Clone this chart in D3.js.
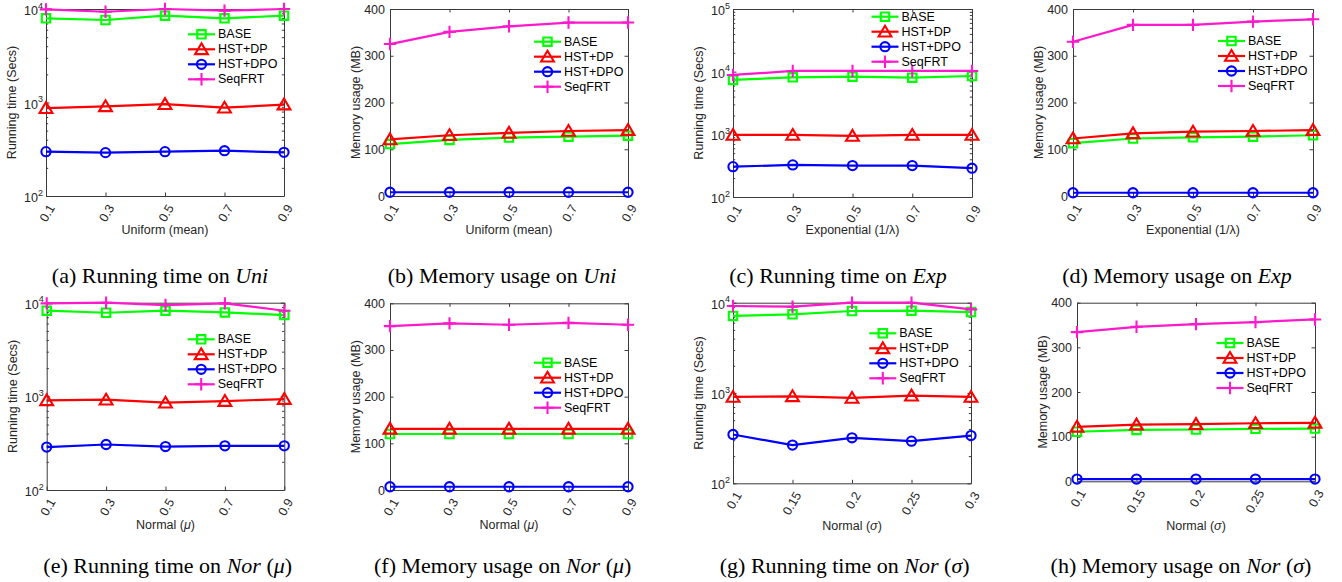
<!DOCTYPE html>
<html>
<head>
<meta charset="utf-8">
<script src="https://cdn.jsdelivr.net/npm/d3@7"></script>
<style>
  body { margin: 0; background: #fff; }
  svg { display: block; }
  text { white-space: pre; }
</style>
</head>
<body>
<script>
// x values
const xMean = [0.1, 0.3, 0.5, 0.7, 0.9];
const xSigma = [0.1, 0.15, 0.2, 0.25, 0.3];
const seriesNames = ["BASE", "HST+DP", "HST+DPO", "SeqFRT"];
const memTicks = [0, 100, 200, 300, 400];

// (a) running time, uniform
const uniTimeBase = [7950, 7630, 8480, 7950, 8480];
const uniTimeDP = [870, 910, 960, 880, 950];
const uniTimeDPO = [298, 291, 298, 305, 293];
const uniTimeSeq = [9900, 9350, 10000, 9600, 10000];

// (b) memory, uniform
const uniMemBase = [111, 120, 125, 127, 129];
const uniMemDP = [121, 130, 135, 139, 141];
const uniMemDPO = [8, 8, 8, 8, 8];
const uniMemSeq = [325, 351, 363, 371, 371];

// (c) running time, exponential
const expTimeBase = [7380, 8130, 8320, 8020, 8530];
const expTimeDP = [978, 978, 943, 978, 978];
const expTimeDPO = [305, 325, 317, 317, 288];
const expTimeSeq = [8860, 10260, 10260, 10260, 10260];

// (d) memory, exponential
const expMemBase = [113, 123, 125.5, 127, 130];
const expMemDP = [123, 134, 137.5, 139, 141];
const expMemDPO = [7, 7, 7, 7, 7];
const expMemSeq = [330, 366, 366, 373, 378];

// (e) running time, normal (mu)
const norMuTimeBase = [8210, 7810, 8210, 7880, 7380];
const norMuTimeDP = [906, 921, 855, 891, 936];
const norMuTimeDPO = [287, 306, 291, 296, 296];
const norMuTimeSeq = [9840, 10000, 9440, 9840, 8210];

// (f) memory, normal (mu)
const norMuMemBase = [120, 120, 120, 120, 120];
const norMuMemDP = [131, 131, 131, 131, 131];
const norMuMemDPO = [7, 7, 7, 7, 7];
const norMuMemSeq = [351, 357, 354, 358, 354];

// (g) running time, normal (sigma)
const norSigTimeBase = [7130, 7430, 8090, 8170, 7880];
const norSigTimeDP = [904, 919, 881, 935, 904];
const norSigTimeDPO = [347, 265, 319, 293, 338];
const norSigTimeSeq = [9190, 9030, 10000, 10000, 8440];

// (h) memory, normal (sigma)
const norSigMemBase = [111, 115, 116, 117.5, 118];
const norSigMemDP = [122, 127, 128, 130, 131];
const norSigMemDPO = [5, 5, 5, 5, 5];
const norSigMemSeq = [334, 346, 352, 356.5, 362.5];

const colors = ["#00ff00", "#ff0000", "#0000ff", "#ff19cc"];
const sans = "'Liberation Sans', Arial, sans-serif";
const serif = "'Liberation Serif', 'Times New Roman', serif";
const ink = "#262626";

const timeLabel = "Running time (Secs)";
const memLabel = "Memory usage (MB)";

// box = [left, right, top, bottom]
const panels = [
  {x: xMean, log: true, ymax: 1e4, series: [uniTimeBase, uniTimeDP, uniTimeDPO, uniTimeSeq],
   ylabel: timeLabel, xlabel: [["Uniform (mean)"]],
   caption: [["(a) Running time on "], ["Uni", "italic"]],
   box: [46, 284, 9, 196], legend: [188, 34.3], cap: [160, 283], xlabY: 230},
  {x: xMean, log: false, series: [uniMemBase, uniMemDP, uniMemDPO, uniMemSeq],
   ylabel: memLabel, xlabel: [["Uniform (mean)"]],
   caption: [["(b) Memory usage on "], ["Uni", "italic"]],
   box: [390, 628, 9, 196], legend: [534, 41.7], cap: [502, 283], xlabY: 230},
  {x: xMean, log: true, ymax: 1e5, series: [expTimeBase, expTimeDP, expTimeDPO, expTimeSeq],
   ylabel: timeLabel, xlabel: [["Exponential (1/λ)"]],
   caption: [["(c) Running time on "], ["Exp", "italic"]],
   box: [733, 972, 9, 197], legend: [871.5, 16.7], cap: [838, 283], xlabY: 230},
  {x: xMean, log: false, series: [expMemBase, expMemDP, expMemDPO, expMemSeq],
   ylabel: memLabel, xlabel: [["Exponential (1/λ)"]],
   caption: [["(d) Memory usage on "], ["Exp", "italic"]],
   box: [1073, 1313, 9, 196], legend: [1218, 41], cap: [1177, 283], xlabY: 230},
  {x: xMean, log: true, ymax: 1e4, series: [norMuTimeBase, norMuTimeDP, norMuTimeDPO, norMuTimeSeq],
   ylabel: timeLabel, xlabel: [["Normal ("], ["μ", "italic"], [")"]],
   caption: [["(e) Running time on "], ["Nor", "italic"], [" ("], ["μ", "italic"], [")"]],
   box: [46.7, 284.3, 302.7, 490], legend: [187.7, 339.3], cap: [167.7, 573], xlabY: 525},
  {x: xMean, log: false, series: [norMuMemBase, norMuMemDP, norMuMemDPO, norMuMemSeq],
   ylabel: memLabel, xlabel: [["Normal ("], ["μ", "italic"], [")"]],
   caption: [["(f) Memory usage on "], ["Nor", "italic"], [" ("], ["μ", "italic"], [")"]],
   box: [390, 628, 303.3, 490], legend: [534, 362.7], cap: [502.7, 573], xlabY: 525},
  {x: xSigma, log: true, ymax: 1e4, series: [norSigTimeBase, norSigTimeDP, norSigTimeDPO, norSigTimeSeq],
   ylabel: timeLabel, xlabel: [["Normal ("], ["σ", "italic"], [")"]],
   caption: [["(g) Running time on "], ["Nor", "italic"], [" ("], ["σ", "italic"], [")"]],
   box: [733, 971, 302.7, 483.3], legend: [869.3, 333.3], cap: [844.7, 573], xlabY: 526},
  {x: xSigma, log: false, series: [norSigMemBase, norSigMemDP, norSigMemDPO, norSigMemSeq],
   ylabel: memLabel, xlabel: [["Normal ("], ["σ", "italic"], [")"]],
   caption: [["(h) Memory usage on "], ["Nor", "italic"], [" ("], ["σ", "italic"], [")"]],
   box: [1077, 1315, 302.7, 481.3], legend: [1216.5, 343], cap: [1181, 573], xlabY: 526}
];

const svg = d3.select("body").append("svg")
    .attr("width", 1342)
    .attr("height", 582);

function marker(sel, i, cx, cy) {
  const c = colors[i];
  if (i === 2) {
    sel.append("circle").attr("cx", cx).attr("cy", cy).attr("r", 4.6)
        .attr("fill", "none").attr("stroke", c).attr("stroke-width", 2.1);
    return;
  }
  const paths = [
    "M-4.2,-4.2h8.4v8.4h-8.4z",
    "M0,-6L6.4,4.8L-6.4,4.8Z",
    null,
    "M-6.2,0H6.2M0,-6.2V6.2"
  ];
  sel.append("path").attr("d", paths[i])
      .attr("transform", `translate(${cx},${cy})`)
      .attr("fill", "none").attr("stroke", c).attr("stroke-width", 2.1);
}

function richText(t, pieces) {
  pieces.forEach(([s, style]) => {
    const ts = t.append("tspan").text(s);
    if (style) ts.attr("font-style", style);
  });
}

function styleAxis(a) {
  a.attr("font-family", sans).attr("font-size", 12.5).attr("color", ink);
  a.select(".domain").attr("stroke", "#3a3a3a").attr("stroke-width", 1);
  a.selectAll(".tick line").attr("stroke", "#3a3a3a");
}

const tickLen = 3.5, minorLen = 2.2;

panels.forEach(p => {
  const [l, r, t, b] = p.box;
  const x = d3.scaleLinear().domain(d3.extent(p.x)).range([l, r]);
  const y = p.log
    ? d3.scaleLog().domain([1e2, p.ymax]).range([b, t])
    : d3.scaleLinear().domain([0, 400]).range([b, t]);

  const major = p.log ? y.ticks().filter(v => Number.isInteger(Math.log10(v))) : memTicks;
  const minor = p.log ? y.ticks().filter(v => !Number.isInteger(Math.log10(v))) : [];

  const g = svg.append("g");

  // left axis
  const left = g.append("g").attr("transform", `translate(${l},0)`)
      .call(d3.axisLeft(y).tickValues(major).tickSizeInner(-tickLen).tickSizeOuter(0)
        .tickPadding(p.log ? 3 : 5)
        .tickFormat(d => p.log ? "10" : d));
  styleAxis(left);
  if (p.log) {
    left.selectAll(".tick text").attr("dy", "0.45em")
      .each(function(d) {
        d3.select(this).append("tspan").attr("dy", -6.5).attr("font-size", 9)
          .text(Math.round(Math.log10(d)));
      });
    const lm = g.append("g").attr("transform", `translate(${l},0)`)
        .call(d3.axisLeft(y).tickValues(minor).tickSize(-minorLen).tickFormat(""));
    styleAxis(lm);
    lm.select(".domain").remove();
  }

  // right axis
  const right = g.append("g").attr("transform", `translate(${r},0)`)
      .call(d3.axisRight(y).tickValues(major).tickSizeInner(-tickLen).tickSizeOuter(0).tickFormat(""));
  styleAxis(right);
  if (p.log) {
    const rm = g.append("g").attr("transform", `translate(${r},0)`)
        .call(d3.axisRight(y).tickValues(minor).tickSize(-minorLen).tickFormat(""));
    styleAxis(rm);
    rm.select(".domain").remove();
  }

  // bottom axis
  const bottom = g.append("g").attr("transform", `translate(0,${b})`)
      .call(d3.axisBottom(x).tickValues(p.x).tickSizeInner(-tickLen).tickSizeOuter(0)
        .tickFormat(d => String(d)));
  styleAxis(bottom);
  bottom.selectAll(".tick text")
      .attr("x", 0).attr("y", 0).attr("dy", "0.35em")
      .attr("text-anchor", "end")
      .attr("transform", "translate(5,9.5) rotate(-60)");

  // top axis
  const top = g.append("g").attr("transform", `translate(0,${t})`)
      .call(d3.axisTop(x).tickValues(p.x).tickSizeInner(-tickLen).tickSizeOuter(0).tickFormat(""));
  styleAxis(top);

  // axis titles
  g.append("text")
      .attr("transform", `translate(${l - 34},${(t + b) / 2}) rotate(-90)`)
      .attr("text-anchor", "middle").attr("dominant-baseline", "central")
      .attr("font-family", sans).attr("font-size", 12.5).attr("fill", ink)
      .text(p.ylabel);

  const xl = g.append("text")
      .attr("x", (l + r) / 2).attr("y", p.xlabY)
      .attr("text-anchor", "middle").attr("dominant-baseline", "central")
      .attr("font-family", sans).attr("font-size", 12.5).attr("fill", ink);
  richText(xl, p.xlabel);

  // series
  const line = d3.line().x((d, i) => x(p.x[i])).y(d => y(d));
  p.series.forEach((vals, si) => {
    g.append("path").datum(vals)
        .attr("d", line)
        .attr("fill", "none")
        .attr("stroke", colors[si])
        .attr("stroke-width", 2.2)
        .attr("stroke-linejoin", "round");
    vals.forEach((v, i) => marker(g, si, x(p.x[i]), y(v)));
  });

  // legend
  const [lx, ly] = p.legend;
  seriesNames.forEach((name, si) => {
    const yy = ly + si * 15;
    g.append("line").attr("x1", lx).attr("x2", lx + 27).attr("y1", yy).attr("y2", yy)
        .attr("stroke", colors[si]).attr("stroke-width", 2.2);
    marker(g, si, lx + 13.5, yy);
    g.append("text").attr("x", lx + 30).attr("y", yy)
        .attr("dominant-baseline", "central")
        .attr("font-family", sans).attr("font-size", 12.5).attr("fill", "#000")
        .text(name);
  });

  // caption
  const cap = g.append("text")
      .attr("x", p.cap[0]).attr("y", p.cap[1])
      .attr("text-anchor", "middle")
      .attr("font-family", serif).attr("font-size", 22).attr("fill", "#000");
  richText(cap, p.caption);
});
</script>
</body>
</html>
